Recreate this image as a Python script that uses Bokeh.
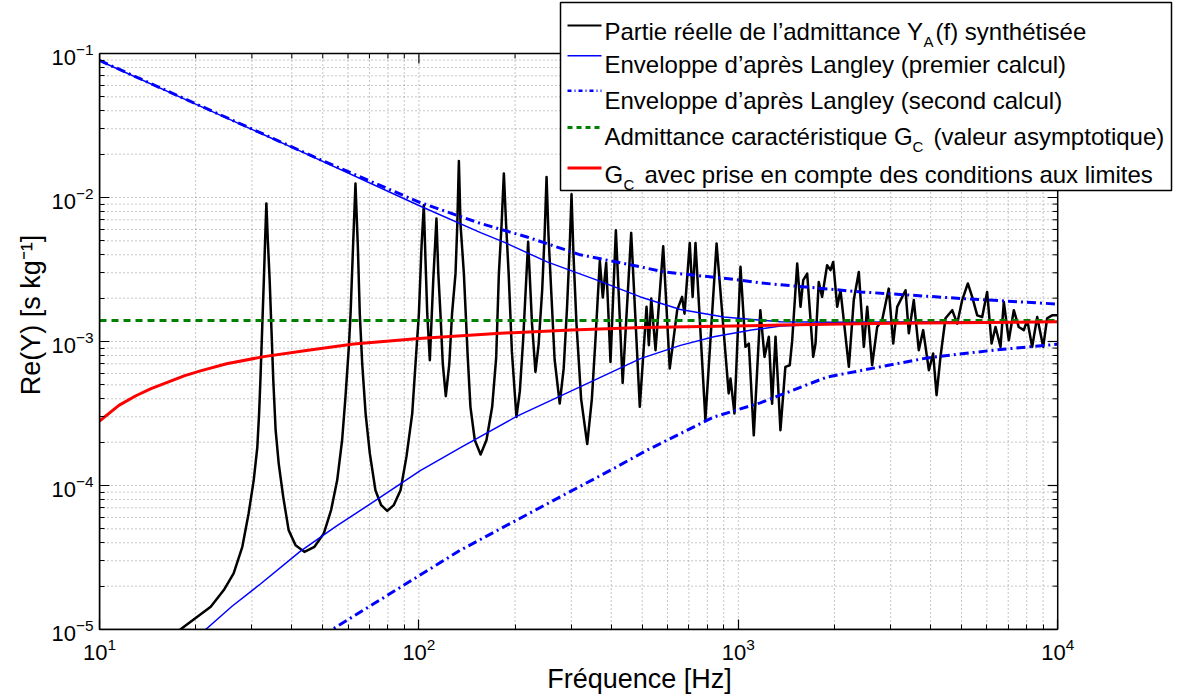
import math
from bokeh.plotting import figure
from bokeh.models import BoxAnnotation, Label, Arrow, Range1d, LogTicker
from bokeh.embed import file_html
from bokeh.resources import INLINE

# ---------------- data ----------------
freq_synth = [16, 17.9, 22.3, 24.5, 26.3, 28.0, 29.3, 30.4, 31.2, 31.6, 31.9, 32.3, 32.7, 33.0,
              33.3, 33.65, 34.1, 34.55, 35.0, 35.6, 36.4, 37.6, 39.1, 41.1, 43.8, 47.1, 50.4,
              53.1, 55.5, 57.5, 58.9, 60.35, 61.1, 62.2, 63.3, 64.4, 65.3, 66.45, 68.1, 70.2,
              73.1, 76.2, 79.6, 83.4, 87.6, 91.4, 95.3, 97.6, 100, 101.9, 103.6, 104.9, 106.2,
              108.2, 110.9, 113.5, 115.0, 116.8, 118.8, 121.4, 124.5, 127, 130.2, 131.9, 133.4,
              135.0, 138.3, 142.2, 145, 149.6, 156, 162.8, 169.6, 174.6, 178, 181.5, 184.5,
              187.5, 191, 195.5, 202, 207, 212, 219.8, 226, 231.7, 237, 243.2, 247.5, 251,
              254.5, 259.5, 266, 276, 284, 291, 296.5, 300.5, 304.5, 311.4, 322, 336.5, 348,
              357, 368.5, 376.5, 385.8, 398, 413.7, 434.5, 462, 491.5,
              516, 524.8, 533.8, 550.6, 582, 610, 643.7, 666.8, 678.6, 704.7, 719.5, 734.5,
              788.8, 855, 933, 945.4, 972.6, 1016, 1053, 1079, 1118, 1172, 1208, 1246, 1276,
              1308, 1355, 1404, 1449, 1475, 1529, 1566, 1597, 1643, 1716, 1745, 1786, 1830,
              1897, 1944, 1982, 2040, 2089, 2219, 2299, 2384, 2472, 2533, 2624, 2721, 2821,
              2958, 3055, 3144, 3339, 3419, 3544, 3673, 3792, 3950, 4074, 4176, 4295, 4453,
              4675, 4845, 5023, 5232, 5399, 5598, 5802, 6012, 6209, 6388, 6622, 6780, 7030,
              7287, 7553, 7834, 8028, 8318, 8626, 9006, 9268, 9609, 10000]
re_synth = [7.0e-6, 1.0e-5, 1.44e-5, 1.88e-5, 2.45e-5, 3.75e-5, 6.4e-5, 1.09e-4, 1.85e-4,
            3.16e-4, 5.4e-4, 1.2e-3, 2.67e-3, 5.05e-3,
            9.1e-3, 5.05e-3, 2.67e-3, 1.2e-3, 5.4e-4, 2.42e-4, 1.42e-4, 8.34e-5, 4.9e-5, 3.85e-5,
            3.46e-5, 3.75e-5, 4.65e-5,
            6.75e-5, 1.09e-4, 2.07e-4, 4.12e-4, 9.17e-4, 1.56e-3, 4.54e-3, 1.25e-2, 4.54e-3,
            1.56e-3, 7.03e-4, 3.16e-4, 1.67e-4,
            9.27e-5, 7.3e-5, 6.67e-5, 7.3e-5, 9.27e-5, 1.58e-4, 3.16e-4, 7.03e-4, 1.56e-3, 4.54e-3,
            8.85e-3, 3.6e-3, 1.56e-3,
            7.41e-4, 2.67e-3, 7.15e-3, 3.0e-3, 1.56e-3, 7.0e-4, 4.17e-4, 7.0e-4, 1.56e-3, 2.96e-3,
            6.5e-3, 1.79e-2,
            6.5e-3, 2.96e-3, 7.8e-4, 3.52e-4, 2.07e-4, 1.64e-4, 2.07e-4, 3.52e-4, 7.8e-4, 2.96e-3,
            6.5e-3, 1.47e-2,
            6.5e-3, 2.96e-3, 8.5e-4, 2.99e-4, 4.5e-4, 1.02e-3, 4.92e-3, 1.33e-3, 6.15e-4, 9.5e-4,
            2.27e-3, 5.5e-3, 1.39e-2,
            5.5e-3, 2.27e-3, 7.5e-4, 3.71e-4, 6.5e-4, 1.74e-3, 4.5e-3, 1.054e-2, 4.2e-3, 1.33e-3,
            4.0e-4, 1.94e-4, 4.0e-4,
            1.02e-3, 3.63e-3, 2.02e-3, 3.52e-3, 7.21e-4, 5.93e-3, 5.16e-4, 5.68e-3, 3.52e-4,
            1.74e-3, 9.42e-4, 1.99e-3, 8.71e-4, 4.59e-3, 6.49e-4, 1.65e-3, 2.04e-3, 1.56e-3,
            4.84e-3, 2.04e-3, 4.84e-3, 2.87e-4, 4.80e-3, 4.36e-4, 5.53e-4, 3.16e-4, 3.30e-3,
            9.18e-4, 9.68e-4, 2.23e-4, 1.65e-3, 7.82e-4, 1.08e-3, 3.70e-4, 1.08e-3, 2.42e-4,
            6.67e-4, 6.84e-4, 1.02e-3, 3.48e-3, 1.74e-3, 2.67e-3, 2.96e-3, 7.82e-4, 9.68e-4,
            2.59e-3, 2.04e-3, 3.39e-3, 3.13e-3, 3.57e-3, 1.74e-3, 2.27e-3, 6.67e-4, 1.94e-3,
            3.04e-3, 9.18e-4, 1.74e-3, 6.84e-4, 1.26e-3, 1.41e-3, 2.33e-3, 9.68e-4, 1.74e-3,
            2.27e-3, 1.14e-3, 1.94e-3, 8.71e-4, 1.20e-3, 6.32e-4, 8.26e-4, 4.24e-4, 7.82e-4,
            1.45e-3, 1.65e-3, 1.33e-3, 1.94e-3, 2.53e-3, 2.04e-3, 1.52e-3, 1.48e-3, 2.21e-3,
            9.68e-4, 1.26e-3, 9.18e-4, 1.88e-3, 1.02e-3, 1.65e-3, 1.26e-3, 1.20e-3, 1.41e-3,
            9.18e-4, 1.48e-3, 9.18e-4, 1.45e-3, 1.52e-3, 1.52e-3]

freq_env1_up = [10, 20, 42.7, 100, 156, 184.5, 252, 361, 494, 659, 900, 1355, 2000, 5000, 10000]
re_env1_up = [0.089, 0.0445, 0.0209, 0.0088, 0.0057, 0.0049, 0.00357, 0.00267, 0.00204,
              0.00167, 0.00148, 0.00137, 0.00136, 0.00137, 0.00137]
freq_env1_low = [19, 21.5, 26, 31.9, 42.6, 55, 74, 101, 135, 203, 336, 494, 659, 838, 1100,
                 1355, 2500, 10000]
re_env1_low = [8.0e-6, 1.0e-5, 1.45e-5, 2.07e-5, 3.5e-5, 5.2e-5, 8.0e-5, 1.27e-4, 1.83e-4,
               3.03e-4, 5.1e-4, 7.6e-4, 9.4e-4, 1.08e-3, 1.2e-3, 1.28e-3, 1.35e-3, 1.37e-3]

freq_env2_up = [10, 20, 50, 100, 156, 218, 320, 494, 585, 1016, 1172, 2413, 4962, 10000]
re_env2_up = [0.0895, 0.0448, 0.0180, 0.0093, 0.0066, 0.00532, 0.0040, 0.0033, 0.00304,
              0.00267, 0.00255, 0.00221, 0.00199, 0.00182]
freq_env2_low = [45, 53.5, 135, 277, 407, 518, 838, 1172, 1897, 3899, 6310, 10000]
re_env2_low = [7.5e-6, 1.0e-5, 3.56e-5, 8.34e-5, 1.31e-4, 1.76e-4, 2.99e-4, 3.75e-4, 5.67e-4,
               7.69e-4, 8.71e-4, 9.57e-4]

freq_gc = [10, 10000]
re_gc = [1.40e-3, 1.40e-3]

freq_gc_bc = [10, 11.5, 13, 14.5, 16.3, 18.5, 20.7, 25, 32.7, 45, 62.5, 100, 180, 300, 500,
              1355, 3000, 10000]
re_gc_bc = [2.8e-4, 3.6e-4, 4.2e-4, 4.7e-4, 5.2e-4, 5.8e-4, 6.25e-4, 7.0e-4, 7.85e-4, 8.7e-4,
            9.6e-4, 1.05e-3, 1.14e-3, 1.2e-3, 1.25e-3, 1.30e-3, 1.34e-3, 1.37e-3]

x_lim = [10, 1e4]
y_lim = [1e-5, 1e-1]

# ---------------- layout ----------------
W, H = 1179, 697
BOX_LEFT, BOX_TOP, BOX_BOTTOM = 99, 53, 629      # plot box position on the page (px)
DEC_X = 958.2 / 3.0                             # px per decade along x
DEC_Y = (BOX_BOTTOM - BOX_TOP) / 4.0            # px per decade along y
FRAME_W = W - BOX_LEFT
FRAME_H = BOX_BOTTOM
x_end = 10 ** (math.log10(x_lim[0]) + FRAME_W / DEC_X)
y_end = 10 ** (math.log10(y_lim[0]) + FRAME_H / DEC_Y)

FONT = "Liberation Sans"

p = figure(width=W, height=H, x_axis_type="log", y_axis_type="log",
           x_range=Range1d(x_lim[0], x_end), y_range=Range1d(y_lim[0], y_end),
           output_backend="svg", toolbar_location=None,
           min_border_left=BOX_LEFT, min_border_right=0, min_border_top=0,
           min_border_bottom=H - BOX_BOTTOM,
           background_fill_color="white", border_fill_color="white")
p.outline_line_color = None

p.xaxis.ticker = LogTicker(num_minor_ticks=10)
p.yaxis.ticker = LogTicker(num_minor_ticks=10)
p.xaxis.bounds = tuple(x_lim)
p.yaxis.bounds = tuple(y_lim)

for ax in (p.xaxis[0], p.yaxis[0]):
    ax.major_tick_in = 10
    ax.major_tick_out = 0
    ax.minor_tick_in = 5
    ax.minor_tick_out = 0
    ax.axis_line_width = 1.5
    ax.major_tick_line_width = 1.2
    ax.major_label_text_font = FONT
    ax.major_label_text_font_size = "22px"
    ax.major_label_text_color = "black"
    ax.axis_label_text_font = FONT
    ax.axis_label_text_font_size = "27px"
    ax.axis_label_text_font_style = "normal"
    ax.axis_label_text_color = "black"

p.xaxis.axis_label = "Fréquence [Hz]"
p.yaxis.axis_label = "Re(Y) [s kg⁻¹]"
p.xaxis.major_label_standoff = 8
p.xaxis.axis_label_standoff = 1
p.yaxis.major_label_standoff = 6
p.yaxis.axis_label_standoff = 2

# grid drawn only inside the plot box (dotted, at every decade and sub-decade value)
p.xgrid.visible = False
p.ygrid.visible = False
grid_x = [k * 10 ** e for e in range(1, 4) for k in range(1, 10)][1:]
grid_y = [k * 10.0 ** e for e in range(-5, -1) for k in range(1, 10)][1:]
p.segment(x0=grid_x, y0=[y_lim[0]] * len(grid_x), x1=grid_x, y1=[y_lim[1]] * len(grid_x),
          line_color="#8c8c8c", line_width=1, line_dash="1 3")
p.segment(x0=[x_lim[0]] * len(grid_y), y0=grid_y, x1=[x_lim[1]] * len(grid_y), y1=grid_y,
          line_color="#8c8c8c", line_width=1, line_dash="1 3")

# ---------------- curves ----------------
p.line(freq_synth, re_synth, line_color="black", line_width=2.5, line_join="round")
p.line(freq_env1_up, re_env1_up, line_color="#0000ff", line_width=1.5)
p.line(freq_env1_low, re_env1_low, line_color="#0000ff", line_width=1.5)
p.line(freq_env2_up, re_env2_up, line_color="#0000ff", line_width=3, line_dash="9 4 2 4")
p.line(freq_env2_low, re_env2_low, line_color="#0000ff", line_width=3, line_dash="9 4 2 4")
p.line(freq_gc, re_gc, line_color="#008000", line_width=3, line_dash="7 5")
p.line(freq_gc_bc, re_gc_bc, line_color="#ff0000", line_width=3, line_join="round")

# ticks on the top and right sides of the box (pointing inwards)
major_x = [10 ** e for e in range(1, 5)]
minor_x = [k * 10 ** e for e in range(1, 4) for k in range(2, 10)]
major_y = [10.0 ** e for e in range(-5, 0)]
minor_y = [k * 10.0 ** e for e in range(-5, -1) for k in range(2, 10)]

def inward_y(length):
    return y_lim[1] * 10 ** (-length / DEC_Y)

def inward_x(length):
    return x_lim[1] * 10 ** (-length / DEC_X)

p.segment(x0=major_x, y0=[y_lim[1]] * len(major_x), x1=major_x, y1=[inward_y(10)] * len(major_x),
          line_color="black", line_width=1.2)
p.segment(x0=minor_x, y0=[y_lim[1]] * len(minor_x), x1=minor_x, y1=[inward_y(5)] * len(minor_x),
          line_color="black", line_width=1)
p.segment(x0=[x_lim[1]] * len(major_y), y0=major_y, x1=[inward_x(10)] * len(major_y), y1=major_y,
          line_color="black", line_width=1.2)
p.segment(x0=[x_lim[1]] * len(minor_y), y0=minor_y, x1=[inward_x(5)] * len(minor_y), y1=minor_y,
          line_color="black", line_width=1)

# box outline
p.add_layout(BoxAnnotation(left=x_lim[0], right=x_lim[1], bottom=y_lim[0], top=y_lim[1],
                           fill_alpha=0, line_color="black", line_width=1.5, line_alpha=1.0))

# ---------------- legend (hand-built, keeps the subscripts) ----------------
def fy(page_y):
    return BOX_BOTTOM - page_y

def fx(page_x):
    return page_x - BOX_LEFT

p.add_layout(BoxAnnotation(left=fx(560), right=fx(1171), bottom=fy(190), top=fy(2),
                           left_units="screen", right_units="screen",
                           bottom_units="screen", top_units="screen",
                           fill_color="white", fill_alpha=1.0,
                           line_color="black", line_width=1.5, line_alpha=1.0))

rows_line_y = [25.0, 55.2, 90.3, 127.1, 167.5]
row_styles = [dict(line_color="black", line_width=2.2),
              dict(line_color="#0000ff", line_width=1.5),
              dict(line_color="#0000ff", line_width=2.5, line_dash="4 3 1 3"),
              dict(line_color="#008000", line_width=3, line_dash="5 4"),
              dict(line_color="#ff0000", line_width=3)]
for yy, st in zip(rows_line_y, row_styles):
    p.add_layout(Arrow(end=None, x_start=fx(567), y_start=fy(yy), x_end=fx(601), y_end=fy(yy),
                       start_units="screen", end_units="screen", **st))

MAIN = "24px"
SUB = "15px"

def lab(px, py, t, size=MAIN):
    p.add_layout(Label(x=fx(px), y=fy(py), x_units="screen", y_units="screen", text=t,
                       text_font=FONT, text_font_size=size, text_color="black",
                       text_baseline="alphabetic", text_align="left"))

lab(604, 30.8, "Partie réelle de l’admittance Y")
lab(923, 40.8, "A", SUB)
lab(935, 30.8, "(f) synthétisée")
lab(604, 63.5, "Enveloppe d’après Langley (premier calcul)")
lab(604, 99.7, "Enveloppe d’après Langley (second calcul)")
lab(604, 135.5, "Admittance caractéristique G")
lab(912, 145.5, "C", SUB)
lab(933, 135.5, "(valeur asymptotique)")
lab(604, 174, "G")
lab(623, 184, "C", SUB)
lab(644, 174, "avec prise en compte des conditions aux limites")

open("out.html", "w").write(file_html(p, INLINE))
